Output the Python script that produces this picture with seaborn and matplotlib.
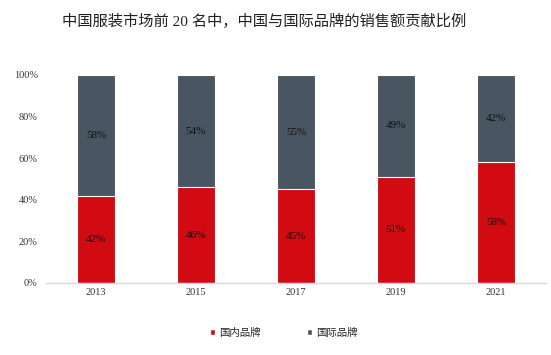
import matplotlib
matplotlib.use("Agg")
import matplotlib.pyplot as plt
import seaborn as sns
import pandas as pd
from matplotlib.ticker import PercentFormatter
from matplotlib.patches import Patch

years = ["2013", "2015", "2017", "2019", "2021"]
domestic = [42, 46, 45, 51, 58]
international = [58, 54, 55, 49, 42]

RED = "#D20A11"
GREY = "#4A5562"
fonts = ["Liberation Serif", "Noto Sans CJK SC"]

sns.set_style("white")
plt.rcParams["font.family"] = fonts

df = pd.DataFrame({"year": years, "dom": domestic, "intl": international})
df["total"] = df["dom"] + df["intl"]

fig = plt.figure(figsize=(5.51, 3.55), dpi=100)
ax = fig.add_axes([46 / 551, 72 / 355, 500 / 551, 208 / 355])

# grey = full stack, red drawn on top of it
sns.barplot(data=df, x="year", y="total", color=GREY, width=0.38,
            edgecolor="white", linewidth=0.8, saturation=1, ax=ax)
sns.barplot(data=df, x="year", y="dom", color=RED, width=0.38,
            edgecolor="white", linewidth=0.8, saturation=1, ax=ax)

for i, row in df.iterrows():
    ax.text(i, row["dom"] / 2, f"{row['dom']}%", ha="center", va="center",
            fontsize=8, color="#111111")
    ax.text(i, row["dom"] + row["intl"] / 2, f"{row['intl']}%", ha="center",
            va="center", fontsize=8, color="#111111")

ax.set_ylim(0, 100)
ax.set_xlim(-0.5, 4.5)
ax.set_yticks(range(0, 101, 20))
ax.yaxis.set_major_formatter(PercentFormatter(decimals=0))
ax.tick_params(axis="both", labelsize=7.5, colors="#333333", length=0)
ax.tick_params(axis="y", pad=6)
ax.set_xlabel("")
ax.set_ylabel("")
for s in ["top", "right", "left"]:
    ax.spines[s].set_visible(False)
ax.spines["bottom"].set_color("#D9D9D9")
ax.spines["bottom"].set_linewidth(1)

fig.text(0.48, 0.94, "中国服装市场前 20 名中，中国与国际品牌的销售额贡献比例",
         ha="center", va="center", fontsize=11, color="#222222")

handles = [Patch(facecolor=RED, label="国内品牌"), Patch(facecolor=GREY, label="国际品牌")]
fig.legend(handles=handles, loc="center", bbox_to_anchor=(0.515, 0.062), ncol=2,
           frameon=False, handlelength=0.5, handleheight=0.5,
           handletextpad=0.4, columnspacing=4.4,
           prop={"family": ["Noto Sans CJK SC"], "size": 7.5})

fig.savefig("out.png", dpi=100)
